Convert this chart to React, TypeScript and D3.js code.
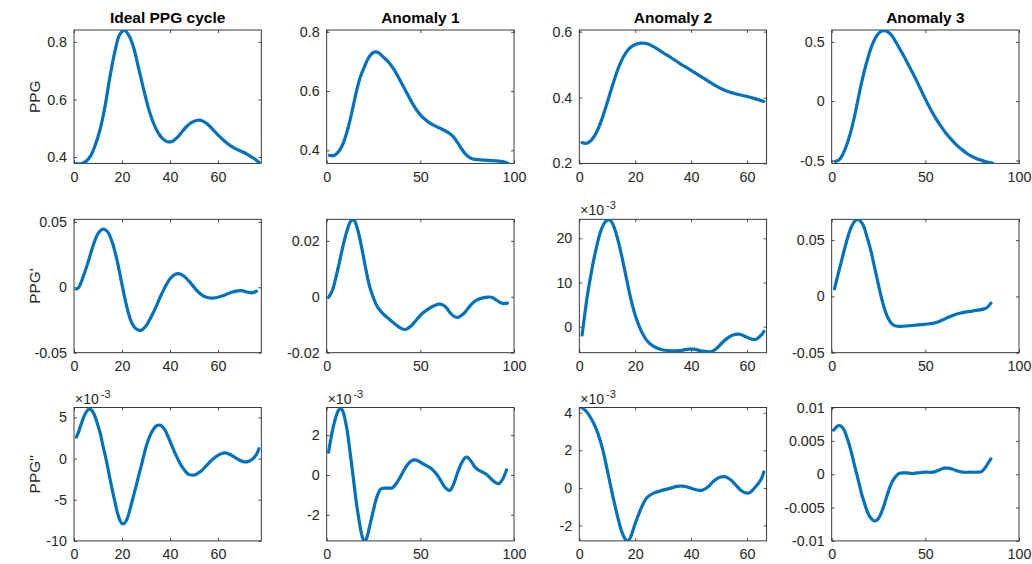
import { useEffect, useRef } from "react";
import * as d3 from "d3";

// ---- data (x = sample index, y = value) ----
const titles = ["Ideal PPG cycle", "Anomaly 1", "Anomaly 2", "Anomaly 3"];
const rowLabels = ["PPG", "PPG'", "PPG''"];

// row 1: PPG
const ppgIdealX = [1, 3, 5, 7, 9, 11, 13, 15, 17, 19, 21, 23, 25, 27, 29, 31, 33, 35, 37, 39, 41, 43, 45, 47, 49, 51, 53, 55, 57, 59, 61, 63, 65, 67, 69, 71, 73, 75, 77];
const ppgIdealY = [0.377, 0.377, 0.385, 0.405, 0.445, 0.5, 0.58, 0.68, 0.765, 0.825, 0.84, 0.82, 0.775, 0.705, 0.635, 0.57, 0.52, 0.485, 0.463, 0.453, 0.455, 0.468, 0.488, 0.507, 0.52, 0.527, 0.527, 0.518, 0.503, 0.485, 0.468, 0.453, 0.44, 0.43, 0.422, 0.415, 0.405, 0.395, 0.382];
const ppgA1X = [1.5, 4, 6, 8, 10, 12, 14, 16, 18, 20, 22, 24, 26, 28, 30, 33, 36, 39, 42, 45, 48, 51, 54, 57, 60, 63, 66, 68, 70, 72, 74, 76, 78, 82, 86, 90, 94, 97];
const ppgA1Y = [0.383, 0.383, 0.393, 0.412, 0.445, 0.49, 0.545, 0.602, 0.648, 0.68, 0.708, 0.726, 0.732, 0.728, 0.716, 0.698, 0.672, 0.638, 0.603, 0.567, 0.536, 0.513, 0.497, 0.485, 0.476, 0.467, 0.455, 0.443, 0.425, 0.405, 0.388, 0.377, 0.371, 0.368, 0.366, 0.365, 0.362, 0.355];
const ppgA2X = [1, 2.5, 4, 6, 8, 10, 12, 14, 16, 18, 20, 22, 24, 26, 28, 30, 33, 36, 39, 42, 45, 48, 51, 54, 57, 60, 63, 66];
const ppgA2Y = [0.263, 0.261, 0.268, 0.292, 0.332, 0.385, 0.44, 0.49, 0.527, 0.55, 0.561, 0.565, 0.564, 0.557, 0.547, 0.536, 0.52, 0.503, 0.488, 0.472, 0.456, 0.44, 0.426, 0.416, 0.409, 0.403, 0.396, 0.388];
const ppgA3X = [2, 4, 6, 8, 10, 12, 14, 16, 18, 20, 22, 24, 26, 28, 30, 32, 34, 36, 38, 40, 43, 46, 49, 52, 55, 58, 61, 64, 67, 70, 73, 76, 79, 82, 86];
const ppgA3Y = [-0.508, -0.495, -0.445, -0.37, -0.27, -0.14, 0.01, 0.16, 0.29, 0.4, 0.49, 0.55, 0.585, 0.595, 0.585, 0.555, 0.505, 0.45, 0.395, 0.335, 0.245, 0.15, 0.05, -0.045, -0.13, -0.205, -0.27, -0.325, -0.375, -0.415, -0.45, -0.475, -0.495, -0.51, -0.525];

// row 2: first derivative
const d1IdealX = [1, 2, 4, 6, 8, 10, 12, 14, 16, 18, 20, 22, 24, 26, 28, 30, 32, 34, 36, 38, 40, 42, 44, 46, 48, 50, 52, 54, 56, 58, 60, 62, 64, 66, 68, 70, 72, 74, 76];
const d1IdealY = [-0.0013, 0, 0.009, 0.02, 0.032, 0.041, 0.0445, 0.0425, 0.034, 0.02, 0.002, -0.015, -0.027, -0.032, -0.0328, -0.0295, -0.023, -0.0155, -0.007, 0.0005, 0.0065, 0.0098, 0.0103, 0.0083, 0.0045, 0, -0.004, -0.0068, -0.008, -0.0082, -0.0076, -0.0065, -0.005, -0.0036, -0.0027, -0.0026, -0.0036, -0.0042, -0.003];
const d1A1X = [1, 3, 5, 7, 9, 11, 13, 14, 15, 17, 19, 21, 23, 25, 27, 30, 33, 36, 39, 42, 45, 48, 51, 54, 57, 60, 62, 64, 66, 68, 70, 72, 74, 76, 78, 80, 83, 86, 88, 90, 92, 94, 96.5];
const d1A1Y = [-0.0002, 0.0022, 0.0072, 0.013, 0.019, 0.024, 0.0272, 0.0275, 0.027, 0.0228, 0.0165, 0.0095, 0.0035, -0.0005, -0.0035, -0.006, -0.0078, -0.0095, -0.011, -0.0117, -0.0105, -0.0082, -0.006, -0.0045, -0.0033, -0.0026, -0.0029, -0.004, -0.0058, -0.007, -0.0074, -0.0066, -0.0054, -0.0037, -0.0022, -0.0012, -0.0005, -0.0001, -0.0002, -0.0009, -0.0018, -0.0024, -0.0023];
// shown in units of 1e-3
const d1A2X = [1, 2, 3, 4, 5, 6, 7, 8, 9, 10, 11, 12, 13, 14, 15, 16, 17, 18, 19, 20, 21, 22, 24, 26, 28, 30, 33, 36, 39, 41, 43, 45, 47, 49, 51, 53, 55, 57, 59, 61, 63, 65, 66];
const d1A2Y = [-1.9, 3, 7.5, 11.2, 14.6, 17.6, 20.2, 22.2, 23.5, 24.1, 24.1, 23.2, 21.5, 19.2, 16.5, 13.5, 10.5, 7.5, 4.8, 2.6, 0.8, -0.8, -3, -4.2, -4.9, -5.3, -5.5, -5.4, -5.1, -5.1, -5.4, -5.6, -5.7, -5.0, -3.7, -2.6, -1.9, -1.7, -2.1, -2.7, -2.9, -2.0, -1.1];
const d1A3X = [1.5, 3, 5, 7, 9, 11, 13, 14, 15, 17, 19, 21, 23, 25, 27, 29, 31, 33, 35, 38, 42, 46, 50, 54, 57, 60, 63, 66, 69, 72, 75, 78, 81, 83, 85];
const d1A3Y = [0.0068, 0.017, 0.03, 0.043, 0.055, 0.0635, 0.068, 0.0685, 0.0675, 0.0625, 0.052, 0.04, 0.025, 0.01, -0.004, -0.015, -0.022, -0.0255, -0.0265, -0.0265, -0.026, -0.0253, -0.0247, -0.024, -0.0225, -0.0203, -0.018, -0.016, -0.0147, -0.0138, -0.013, -0.0122, -0.0113, -0.0098, -0.006];

// row 3: second derivative (first three shown in units of 1e-3)
const d2IdealX = [1, 2, 3, 4, 5, 6, 7, 8, 9, 10, 11, 12, 13, 14, 15, 16, 17, 18, 19, 20, 21, 22, 23, 24, 25, 26, 27, 28, 29, 30, 31, 32, 33, 34, 35, 36, 37, 38, 39, 40, 41, 42, 43, 44, 45, 46, 47, 48, 49, 50, 51, 52, 53, 55, 57, 59, 61, 63, 65, 67, 69, 71, 72, 74, 76, 77];
const d2IdealY = [2.6, 3.3, 4.2, 5.0, 5.6, 5.95, 5.95, 5.6, 4.9, 4.0, 3.0, 1.6, 0.4, -1.0, -2.5, -3.9, -5.2, -6.5, -7.4, -7.9, -7.85, -7.4, -6.5, -5.4, -4.3, -3.2, -2.0, -0.9, 0.3, 1.4, 2.3, 3.0, 3.5, 3.9, 4.05, 4.05, 3.8, 3.4, 2.8, 2.1, 1.4, 0.7, 0.1, -0.5, -1.0, -1.4, -1.75, -1.95, -2.0, -2.0, -1.9, -1.7, -1.5, -0.9, -0.3, 0.2, 0.55, 0.7, 0.5, 0.15, -0.2, -0.4, -0.4, -0.15, 0.5, 1.2];
const d2A1X = [1, 2, 3, 4, 5, 6, 7, 8, 9, 10, 11, 12, 13, 14, 15, 16, 17, 18, 19, 20, 21, 22, 23, 24, 25, 26, 27, 28, 29, 31, 33, 35, 37, 39, 41, 43, 45, 47, 49, 51, 53, 55, 57, 59, 61, 63, 65, 66, 67, 68, 70, 72, 74, 75, 77, 79, 81, 83, 85, 87, 89, 91, 92, 94, 96];
const d2A1Y = [1.15, 1.7, 2.2, 2.6, 2.95, 3.2, 3.33, 3.3, 3.1, 2.7, 2.2, 1.5, 0.75, 0, -0.75, -1.5, -2.1, -2.7, -3.1, -3.3, -3.25, -2.95, -2.55, -2.15, -1.75, -1.35, -1.05, -0.82, -0.7, -0.66, -0.66, -0.65, -0.45, -0.15, 0.2, 0.5, 0.7, 0.76, 0.7, 0.58, 0.48, 0.38, 0.22, 0, -0.3, -0.6, -0.76, -0.76, -0.62, -0.4, 0.15, 0.6, 0.88, 0.9, 0.7, 0.42, 0.25, 0.15, 0.05, -0.12, -0.3, -0.42, -0.43, -0.2, 0.25];
const d2A2X = [1, 2, 3, 4, 5, 6, 7, 8, 9, 10, 11, 12, 13, 14, 15, 16, 17, 18, 19, 20, 21, 22, 23, 24, 25, 27, 29, 31, 33, 35, 37, 39, 41, 43, 44, 46, 48, 50, 52, 54, 56, 58, 60, 61, 63, 65, 66];
const d2A2Y = [4.27, 4.15, 3.98, 3.75, 3.48, 3.15, 2.75, 2.25, 1.65, 0.95, 0.25, -0.45, -1.1, -1.7, -2.25, -2.62, -2.8, -2.72, -2.35, -1.9, -1.5, -1.12, -0.8, -0.55, -0.42, -0.25, -0.16, -0.08, 0, 0.08, 0.1, 0.03, -0.07, -0.13, -0.12, 0.05, 0.35, 0.55, 0.6, 0.45, 0.15, -0.15, -0.28, -0.25, 0.05, 0.45, 0.85];
const d2A3X = [1, 2, 3, 4, 5, 6, 7, 8, 9, 10, 11, 12, 13, 14, 15, 16, 17, 18, 19, 20, 21, 22, 23, 24, 25, 26, 27, 28, 29, 30, 31, 32, 33, 34, 35, 36, 38, 40, 43, 46, 50, 54, 57, 60, 62, 64, 67, 70, 74, 78, 80, 82, 84, 85];
const d2A3Y = [0.0066, 0.0069, 0.0072, 0.0073, 0.0072, 0.0069, 0.0064, 0.0056, 0.0048, 0.0038, 0.0027, 0.0015, 0.0004, -0.0007, -0.0018, -0.003, -0.0039, -0.0048, -0.0056, -0.0062, -0.0066, -0.0069, -0.007, -0.0069, -0.0066, -0.0061, -0.0054, -0.0046, -0.0037, -0.0028, -0.002, -0.0013, -0.0008, -0.0004, -0.0001, 0.0001, 0.0002, 0.0002, 0.0001, 0.0002, 0.0003, 0.0003, 0.0006, 0.0009, 0.0009, 0.0008, 0.0005, 0.0003, 0.0003, 0.0003, 0.0004, 0.001, 0.0019, 0.0023];

// axis limits and ticks
const xTicks20 = [0, 20, 40, 60];
const xTicks50 = [0, 50, 100];
const xLims = [[0, 78], [0, 100], [0, 67], [0, 100]];
const yLims = [
  [[0.378, 0.841], [0.356, 0.806], [0.2, 0.605], [-0.525, 0.6]],
  [[-0.05, 0.052], [-0.02, 0.0277], [-5.9, 24.3], [-0.05, 0.0685]],
  [[-10, 6.2], [-3.31, 3.39], [-2.82, 4.28], [-0.01, 0.01]],
];
const yTickVals = [
  [[0.4, 0.6, 0.8], [0.4, 0.6, 0.8], [0.2, 0.4, 0.6], [-0.5, 0, 0.5]],
  [[-0.05, 0, 0.05], [-0.02, 0, 0.02], [0, 10, 20], [-0.05, 0, 0.05]],
  [[-10, -5, 0, 5], [-2, 0, 2], [-2, 0, 2, 4], [-0.01, -0.005, 0, 0.005, 0.01]],
];
const expRows = [
  [false, false, false, false],
  [false, false, true, false],
  [true, true, true, false],
];

const seriesX = [
  [ppgIdealX, ppgA1X, ppgA2X, ppgA3X],
  [d1IdealX, d1A1X, d1A2X, d1A3X],
  [d2IdealX, d2A1X, d2A2X, d2A3X],
];
const seriesY = [
  [ppgIdealY, ppgA1Y, ppgA2Y, ppgA3Y],
  [d1IdealY, d1A1Y, d1A2Y, d1A3Y],
  [d2IdealY, d2A1Y, d2A2Y, d2A3Y],
];

const W = 1032;
const H = 564;
const colLeft = [74, 326.7, 579.3, 831.7];
const rowTop = [30, 219.3, 407.5];
const plotW = 187.3;
const plotH = 133.4;
const font = "'Liberation Sans', Arial, Helvetica, sans-serif";
const axisColor = "#262626";

const App = () => {
  const svgRef = useRef<SVGSVGElement>(null);

  useEffect(() => {
    const svg = d3.select(svgRef.current);
    svg.selectAll("*").remove();
    svg.append("rect").attr("width", W).attr("height", H).attr("fill", "#fff");

    const fmt = (v: number) => (v === 0 ? "0" : String(v));

    for (let r = 0; r < 3; r++) {
      for (let c = 0; c < 4; c++) {
        const left = colLeft[c];
        const top = rowTop[r];
        const x = d3.scaleLinear().domain(xLims[c]).range([left, left + plotW]);
        const y = d3.scaleLinear().domain(yLims[r][c]).range([top + plotH, top]);
        const xt = c % 2 === 0 ? xTicks20 : xTicks50;
        const yt = yTickVals[r][c];

        const g = svg.append("g");
        const clipId = `clip-${r}-${c}`;
        g.append("clipPath")
          .attr("id", clipId)
          .append("rect")
          .attr("x", left)
          .attr("y", top)
          .attr("width", plotW)
          .attr("height", plotH);

        // axes with inward ticks on all four sides
        const axB = g
          .append("g")
          .attr("transform", `translate(0,${top + plotH})`)
          .call(d3.axisBottom(x).tickValues(xt).tickFormat((d) => fmt(+d)).tickSizeInner(-3).tickSizeOuter(0).tickPadding(8));
        const axT = g
          .append("g")
          .attr("transform", `translate(0,${top})`)
          .call(d3.axisTop(x).tickValues(xt).tickFormat(() => "").tickSizeInner(-3).tickSizeOuter(0));
        const axL = g
          .append("g")
          .attr("transform", `translate(${left},0)`)
          .call(d3.axisLeft(y).tickValues(yt).tickFormat((d) => fmt(+d)).tickSizeInner(-3).tickSizeOuter(0).tickPadding(7));
        const axR = g
          .append("g")
          .attr("transform", `translate(${left + plotW},0)`)
          .call(d3.axisRight(y).tickValues(yt).tickFormat(() => "").tickSizeInner(-3).tickSizeOuter(0));

        [axB, axT, axL, axR].forEach((a) => {
          a.select(".domain").remove();
          a.selectAll("line").attr("stroke", axisColor).attr("stroke-width", 0.8);
          a.selectAll("text")
            .attr("fill", axisColor)
            .style("font-family", font)
            .style("font-size", "14.3px");
        });

        g.append("rect")
          .attr("x", left)
          .attr("y", top)
          .attr("width", plotW)
          .attr("height", plotH)
          .attr("fill", "none")
          .attr("stroke", axisColor)
          .attr("stroke-width", 0.9);

        const xs = seriesX[r][c];
        const ys = seriesY[r][c];
        const line = d3
          .line<number>()
          .x((_, i) => x(xs[i]))
          .y((d) => y(d))
          .curve(d3.curveCatmullRom.alpha(0.5));

        g.append("path")
          .attr("d", line(ys))
          .attr("clip-path", `url(#${clipId})`)
          .attr("fill", "none")
          .attr("stroke", "#0072BD")
          .attr("stroke-width", 3.2)
          .attr("stroke-linejoin", "round")
          .attr("stroke-linecap", "round");

        if (expRows[r][c]) {
          const t = g
            .append("text")
            .attr("x", left + 1)
            .attr("y", top - 4)
            .attr("fill", axisColor)
            .style("font-family", font)
            .style("font-size", "14px");
          t.append("tspan").text("×10");
          t.append("tspan").attr("dx", 2).attr("dy", -6).style("font-size", "11px").text("-3");
        }

        if (r === 0) {
          g.append("text")
            .attr("x", left + plotW / 2)
            .attr("y", top - 7)
            .attr("text-anchor", "middle")
            .attr("fill", "#000")
            .style("font-family", font)
            .style("font-size", "15.5px")
            .style("font-weight", "bold")
            .text(titles[c]);
        }

        if (c === 0) {
          g.append("text")
            .attr("transform", `translate(40,${top + plotH / 2}) rotate(-90)`)
            .attr("text-anchor", "middle")
            .attr("fill", axisColor)
            .style("font-family", font)
            .style("font-size", "15.4px")
            .text(rowLabels[r]);
        }
      }
    }
  }, []);

  return (
    <svg
      ref={svgRef}
      width={W}
      height={H}
      style={{ position: "absolute", left: 0, top: 0, display: "block" }}
    />
  );
};

export default App;
